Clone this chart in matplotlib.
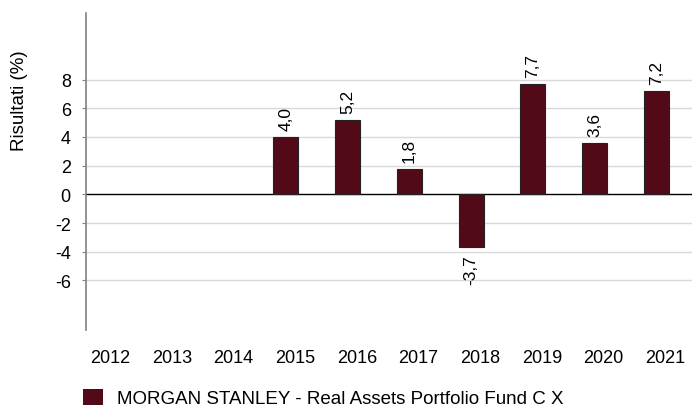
import numpy as np
import matplotlib.pyplot as plt
from matplotlib.patches import Patch

plt.rcParams['font.family'] = ['Liberation Sans', 'DejaVu Sans']

## data
years = ['2012', '2013', '2014', '2015', '2016', '2017', '2018', '2019', '2020', '2021']
values = [None, None, None, 4.0, 5.2, 1.8, -3.7, 7.7, 3.6, 7.2]
yticks = [-6, -4, -2, 0, 2, 4, 6, 8]
fund_name = 'MORGAN STANLEY - Real Assets Portfolio Fund C X'
bar_color = '#520a18'
fs = 12.5

fig = plt.figure(figsize=(6.94, 4.10), dpi=100)
ax = fig.add_axes([0.124, 0.193, 0.873, 0.773])

x = np.arange(len(years))
for i, v in enumerate(values):
    if v is None:
        continue
    ax.bar(x[i], v, width=0.405, color=bar_color, edgecolor='#222222', linewidth=0.8, zorder=3)
    label = ('%.1f' % v).replace('.', ',')
    if v >= 0:
        ax.annotate(label, (x[i], v), xytext=(0, 5), textcoords='offset points',
                    rotation=90, ha='center', va='bottom', fontsize=fs)
    else:
        ax.annotate(label, (x[i], v), xytext=(0, -5), textcoords='offset points',
                    rotation=90, ha='center', va='top', fontsize=fs)

## gridlines
for t in yticks:
    if t == 0:
        ax.axhline(0, color='black', linewidth=1.0, zorder=2)
    else:
        ax.axhline(t, color='#d9d9d9', linewidth=1.0, zorder=1)

ax.set_xlim(-0.24, 9.58)
ax.set_ylim(-9.45, 12.65)
ax.set_yticks(yticks)
ax.set_yticklabels([str(t) for t in yticks], fontsize=13)
## year labels sit a little right of the bars in the reference
ax.set_xticks(x + 0.15)
ax.set_xticklabels(years, fontsize=13)
ax.tick_params(axis='x', length=0, pad=14)
ax.tick_params(axis='y', length=3, color='#808080', pad=8)

for s in ['top', 'right', 'bottom']:
    ax.spines[s].set_visible(False)
ax.spines['left'].set_color('#808080')
ax.spines['left'].set_linewidth(1.2)

fig.text(20 / 694, 1 - 101 / 410, 'Risultati (%)', rotation=90, ha='center', va='center', fontsize=13.5)

fig.legend(handles=[Patch(facecolor=bar_color, edgecolor='none')], labels=[fund_name],
           loc='center left', bbox_to_anchor=(83 / 694, 1 - 399 / 410), frameon=False, fontsize=13.5,
           borderpad=0, borderaxespad=0,
           handlelength=1.05, handleheight=1.0, handletextpad=0.75)

fig.savefig('out.png', dpi=100)
